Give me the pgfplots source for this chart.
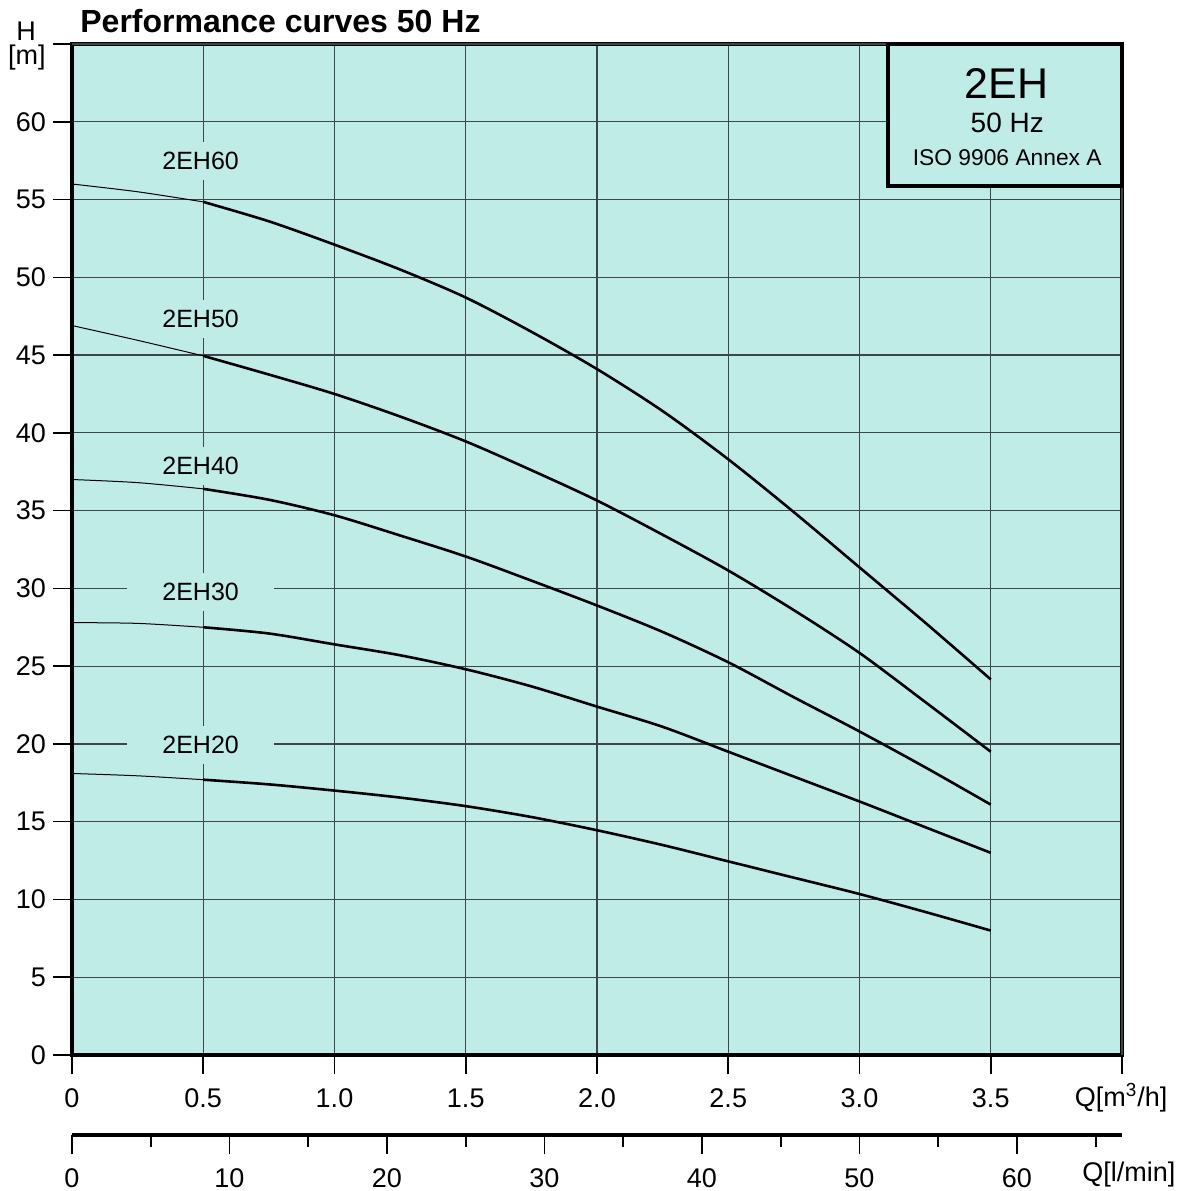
\documentclass[border=0pt]{standalone}
\usepackage{pgfplots}
\pgfplotsset{compat=1.18}
\usepackage{fontspec}
\setmainfont{Liberation Sans}
\definecolor{bgc}{RGB}{192,236,232}
\definecolor{gridc}{RGB}{60,70,72}

% 1 px of the reference = 0.5pt
\newcommand{\fs}[1]{\fontsize{#1}{#1}\selectfont}

\begin{document}
\begin{tikzpicture}
\begin{axis}[
    at={(36pt,68pt)}, anchor=south west,
    width=525pt, height=505.5pt, scale only axis,
    xmin=0, xmax=4, ymin=0, ymax=65,
    clip=false,
    axis background/.style={fill=bgc},
    xtick={0,0.5,...,3.5},
    xticklabels={0,0.5,1.0,1.5,2.0,2.5,3.0,3.5},
    extra x ticks={4}, extra x tick labels={},
    ytick={0,5,...,60},
    extra y ticks={65}, extra y tick labels={},
    tick pos=left,
    grid=major,
    major grid style={gridc, line width=0.6pt},
    tick align=outside,
    major tick length=9.5pt,
    tick style={black, line width=0.8pt},
    axis line style={line width=1.7pt},
    /pgf/number format/assume math mode=true,
    ticklabel style={font=\fs{13.5}},
    xticklabel style={yshift=-4pt},
    yticklabel style={xshift=0pt},
]
% curve labels
\begin{scope}[every node/.style={fill=bgc, inner sep=0pt, minimum width=73.5pt, minimum height=19pt, font=\fs{12.5}}]
\node at (axis cs:0.49,57.5) {2EH60};
\node at (axis cs:0.49,47.3) {2EH50};
\node at (axis cs:0.49,37.9) {2EH40};
\node at (axis cs:0.49,29.8) {2EH30};
\node at (axis cs:0.49,19.95) {2EH20};
\end{scope}

% 2EH60
\addplot[black, line width=0.5pt, smooth] coordinates {(0,56.0)(0.25,55.5)(0.5,54.85)};
\addplot[black, line width=1.3pt, smooth] coordinates {
  (0.5,54.85)(0.75,53.6)(1.0,52.1)(1.25,50.5)(1.5,48.7)(1.75,46.5)(2.0,44.1)
  (2.25,41.4)(2.5,38.3)(2.75,34.9)(3.0,31.35)(3.25,27.8)(3.5,24.15)};
% 2EH50
\addplot[black, line width=0.5pt, smooth] coordinates {(0,46.9)(0.25,45.95)(0.5,44.95)};
\addplot[black, line width=1.3pt, smooth] coordinates {
  (0.5,44.95)(0.75,43.75)(1.0,42.5)(1.25,41.05)(1.5,39.45)(1.75,37.6)(2.0,35.65)
  (2.25,33.45)(2.5,31.15)(2.75,28.6)(3.0,25.85)(3.25,22.7)(3.5,19.5)};
% 2EH40
\addplot[black, line width=0.5pt, smooth] coordinates {(0,37.0)(0.25,36.8)(0.5,36.4)};
\addplot[black, line width=1.3pt, smooth] coordinates {
  (0.5,36.4)(0.75,35.7)(1.0,34.7)(1.25,33.4)(1.5,32.05)(1.75,30.5)(2.0,28.9)
  (2.25,27.2)(2.5,25.25)(2.75,23.0)(3.0,20.8)(3.25,18.5)(3.5,16.1)};
% 2EH30
\addplot[black, line width=0.5pt, smooth] coordinates {(0,27.8)(0.25,27.75)(0.5,27.5)};
\addplot[black, line width=1.3pt, smooth] coordinates {
  (0.5,27.5)(0.75,27.1)(1.0,26.4)(1.25,25.7)(1.5,24.8)(1.75,23.7)(2.0,22.4)
  (2.25,21.1)(2.5,19.5)(2.75,17.9)(3.0,16.3)(3.25,14.65)(3.5,13.0)};
% 2EH20
\addplot[black, line width=0.5pt, smooth] coordinates {(0,18.1)(0.25,17.95)(0.5,17.7)};
\addplot[black, line width=1.3pt, smooth] coordinates {
  (0.5,17.7)(0.75,17.4)(1.0,17.0)(1.25,16.55)(1.5,16.0)(1.75,15.3)(2.0,14.45)
  (2.25,13.5)(2.5,12.45)(2.75,11.4)(3.0,10.35)(3.25,9.2)(3.5,8.0)};

% title box
\draw[fill=bgc, line width=2pt] (axis cs:3.11,55.9) rectangle (axis cs:4,65);
\node[font=\fs{21.5}] at (axis cs:3.56,62.45) {2EH};
\node[font=\fs{14}] at (axis cs:3.563,59.9) {50 Hz};
\node[font=\fs{11.4}] at (axis cs:3.563,57.7) {ISO 9906 Annex A};

% titles and units
\node[anchor=west, font=\fs{16}\bfseries] at (axis cs:0.005,66.45) {Performance curves 50 Hz};
\node[inner sep=0pt, font=\fs{13.5}] at (axis cs:-0.175,65.85) {H};
\node[inner sep=0pt, font=\fs{13.5}] at (axis cs:-0.172,64.1) {[m]};
\node[anchor=east, font=\fs{13.5}] at (axis cs:4.2,-2.75) {Q[m\textsuperscript{3}/h]};
\end{axis}

% second flow scale in l/min
\begin{axis}[
    at={(36pt,28pt)}, anchor=south west,
    width=525pt, height=20pt, scale only axis,
    xmin=0, xmax=66.667, ymin=0, ymax=1,
    clip=false,
    axis x line=bottom, axis y line=none,
    axis line style={-, line width=1.7pt},
    xtick={0,10,...,60},
    minor xtick={5,15,...,65},
    tick align=outside,
    major tick length=9.5pt, minor tick length=6pt,
    tick style={black, line width=0.8pt},
    /pgf/number format/assume math mode=true,
    ticklabel style={font=\fs{13.5}},
    xticklabel style={yshift=-4pt},
]
\node[anchor=east, font=\fs{13.5}] at (axis cs:70.5,-1.0) {Q[l/min]};
\end{axis}

\pgfresetboundingbox
\useasboundingbox (0,0) rectangle (594pt,595.5pt);
\end{tikzpicture}
\end{document}
